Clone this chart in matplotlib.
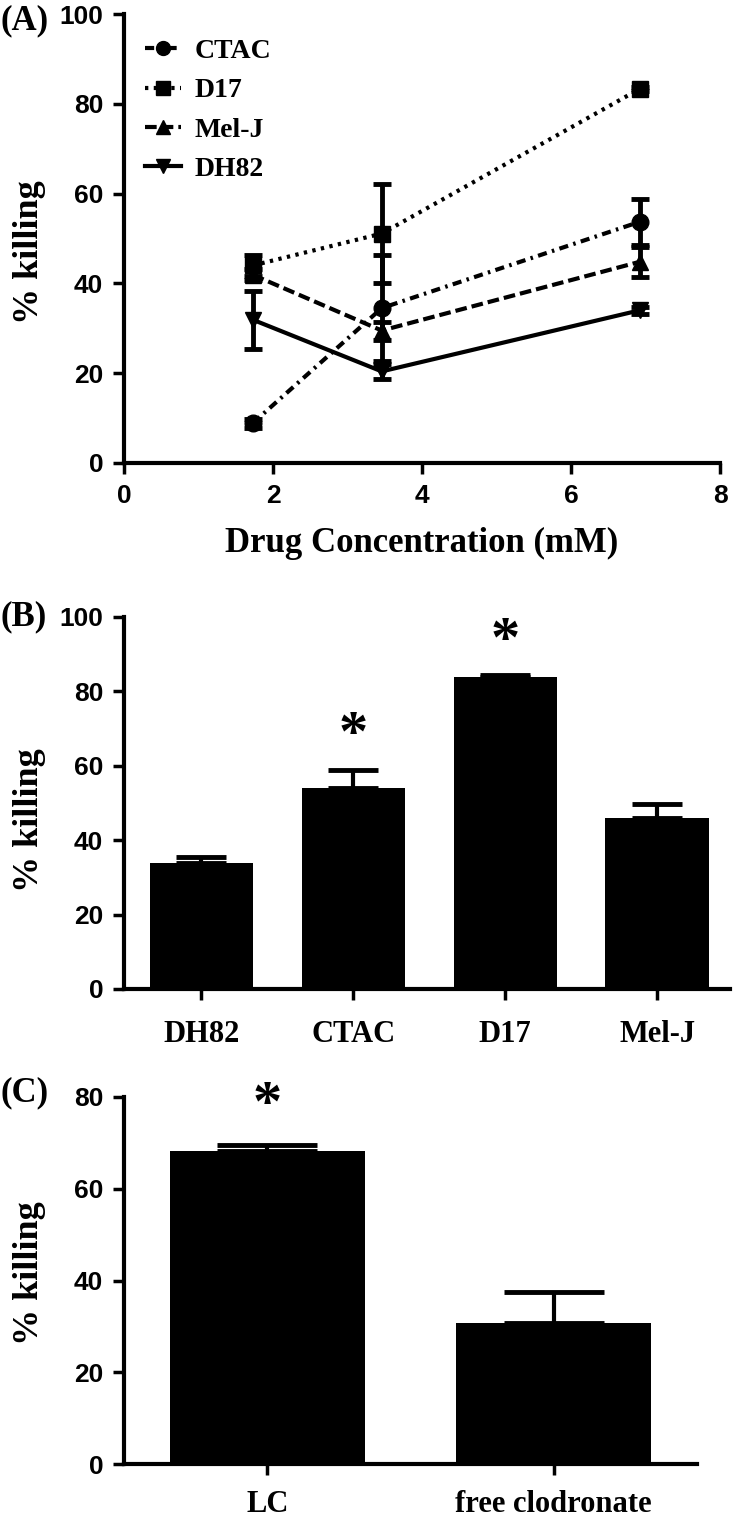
import numpy as np
import matplotlib
matplotlib.use('Agg')
import matplotlib.pyplot as plt
from matplotlib.lines import Line2D
from matplotlib.font_manager import FontProperties

# panel A - killing vs drug concentration
conc = [1.73, 3.46, 6.92]
ctac_mean = [8.9, 34.5, 53.7]
ctac_err = [1.0, 11.8, 5.2]
d17_mean = [44.0, 51.1, 83.3]
d17_err = [2.3, 11.0, 0.5]
melj_mean = [41.9, 29.5, 44.8]
melj_err = [1.2, 2.0, 3.3]
dh82_mean = [31.9, 20.4, 34.0]
dh82_err = [6.5, 1.6, 0.8]

# panel B - killing at highest concentration
b_cells = ['DH82', 'CTAC', 'D17', 'Mel-J']
b_mean = [34.0, 54.0, 84.0, 46.0]
b_err = [1.6, 4.9, 0.4, 3.6]
b_star = ['CTAC', 'D17']

# panel C - LC vs free clodronate
c_groups = ['LC', 'free clodronate']
c_mean = [68.3, 30.8]
c_err = [1.3, 6.6]
c_star = ['LC']

# everything in the figure is bold; numbers in a sans face
plt.rcParams['font.family'] = ['Liberation Sans', 'DejaVu Sans']
plt.rcParams['font.weight'] = 'bold'

W, H = 734, 1519
DPI = 100
serif_bold = dict(family='Liberation Serif', weight='bold')
label_x = 46  # pixel column of the right edge of the rotated y labels


def px_axes(fig, left, top, right, bottom):
    return fig.add_axes([left / W, 1 - bottom / H, (right - left) / W, (bottom - top) / H])


def style_axes(ax, ylab_y):
    for s in ['top', 'right']:
        ax.spines[s].set_visible(False)
    for s in ['left', 'bottom']:
        ax.spines[s].set_linewidth(3)
    ax.tick_params(direction='out', length=8, width=2.5, pad=7, labelsize=19)
    ax.set_ylabel('% killing', fontsize=26, **serif_bold)
    bb = ax.get_position()
    ax.yaxis.set_label_coords((label_x / W - bb.x0) / bb.width, ylab_y)


fig = plt.figure(figsize=(W / DPI, H / DPI), dpi=DPI)

# ---------------- (A) ----------------
ax = px_axes(fig, 124, 14, 720, 463)
series = [
    ('CTAC', ctac_mean, ctac_err, 'o', (0, (2.2, 1.3, 0.6, 1.3))),
    ('D17', d17_mean, d17_err, 's', (0, (0.8, 1.3))),
    ('Mel-J', melj_mean, melj_err, '^', (0, (2.8, 1.2))),
    ('DH82', dh82_mean, dh82_err, 'v', '-'),
]
handles = []
for name, m, e, mk, ls in series:
    ax.errorbar(conc, m, yerr=e, color='black', marker=mk, markersize=12,
                linestyle=ls, linewidth=3, elinewidth=3.5, capsize=6.5,
                capthick=3.5)
    handles.append(Line2D([], [], color='black', marker=mk, markersize=10,
                          linestyle=ls, linewidth=3, label=name))
ax.set_xlim(0, 8)
ax.set_ylim(0, 100)
ax.set_xticks([0, 2, 4, 6, 8])
ax.set_yticks([0, 20, 40, 60, 80, 100])
style_axes(ax, 0.47)
ax.set_xlabel('Drug Concentration (mM)', fontsize=25, labelpad=14, **serif_bold)
ax.legend(handles=handles, loc='upper left', bbox_to_anchor=(0.035, 0.945), frameon=False,
          prop=dict(family='Liberation Serif', weight='bold', size=20),
          handlelength=1.3, handletextpad=0.5, labelspacing=0.5,
          borderpad=0, borderaxespad=0)
fig.text(0 / W, 1 - 21 / H, '(A)', fontsize=25, va='center', ha='left', **serif_bold)

# ---------------- (B) ----------------
ax = px_axes(fig, 124, 617, 730, 989)
xb = np.arange(len(b_cells))
ax.bar(xb, b_mean, width=0.68, color='black')
ax.errorbar(xb, b_mean, yerr=[np.zeros(len(b_err)), b_err], fmt='none',
            ecolor='black', elinewidth=3, capsize=18, capthick=3.5)
for name in b_star:
    i = b_cells.index(name)
    ax.text(xb[i], b_mean[i] + b_err[i] + 9, '*', ha='center', va='center',
            fontsize=42, **serif_bold)
ax.set_xlim(-0.51, 3.48)
ax.set_ylim(0, 100)
ax.set_yticks([0, 20, 40, 60, 80, 100])
ax.set_xticks(xb)
ax.set_xticklabels(b_cells, fontsize=22, **serif_bold)
style_axes(ax, 0.455)
ax.tick_params(axis='x', pad=14, labelsize=22)
fig.text(0 / W, 1 - 617 / H, '(B)', fontsize=25, va='center', ha='left', **serif_bold)

# ---------------- (C) ----------------
ax = px_axes(fig, 124, 1097, 697, 1464)
xc = np.arange(len(c_groups))
ax.bar(xc, c_mean, width=0.68, color='black')
ax.errorbar(xc, c_mean, yerr=[np.zeros(len(c_err)), c_err], fmt='none',
            ecolor='black', elinewidth=3, capsize=36, capthick=3.5)
for name in c_star:
    i = c_groups.index(name)
    ax.text(xc[i], 78, '*', ha='center', va='center', fontsize=42, **serif_bold)
ax.set_xlim(-0.5, 1.5)
ax.set_ylim(0, 80)
ax.set_yticks([0, 20, 40, 60, 80])
ax.set_xticks(xc)
ax.set_xticklabels(c_groups, fontsize=22, **serif_bold)
style_axes(ax, 0.52)
ax.tick_params(axis='x', pad=11, labelsize=22)
fig.text(0 / W, 1 - 1093 / H, '(C)', fontsize=25, va='center', ha='left', **serif_bold)

fig.savefig('out.png', dpi=DPI)
